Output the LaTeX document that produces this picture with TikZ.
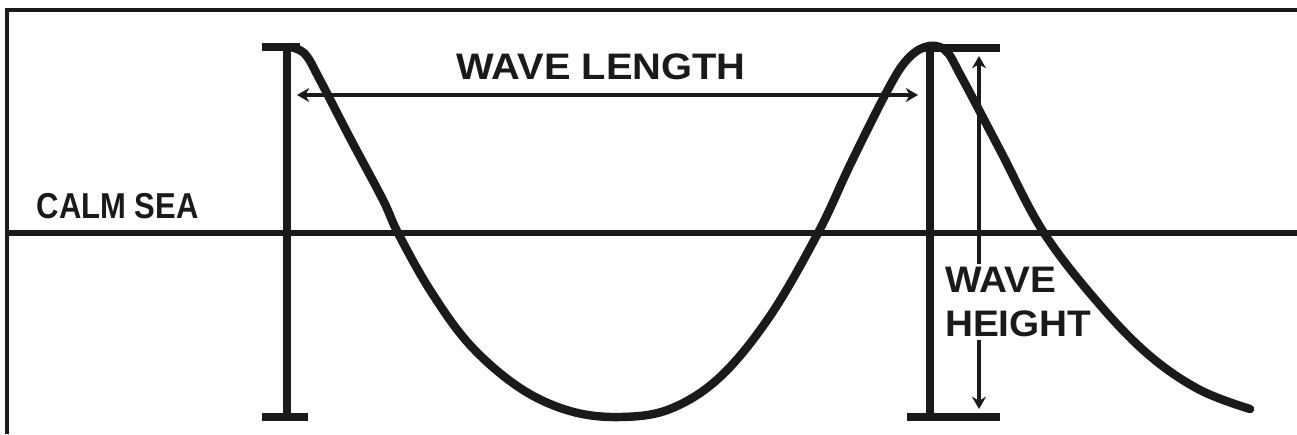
\documentclass[tikz,border=0pt]{standalone}
\usepackage{fontspec}
\setmainfont{Liberation Sans}
\usepackage{tikz}
\usetikzlibrary{arrows.meta,positioning,calc}
\definecolor{WaveInk}{HTML}{1A1A1A}

\begin{document}
\begin{tikzpicture}[x=0.02cm, y=-0.02cm,
  pole/.style={draw=WaveInk, line width=5pt},
  tick/.style={draw=WaveInk, line width=5pt},
  sea/.style={draw=WaveInk, line width=3.6pt},
  wave/.style={draw=WaveInk, line width=4.8pt, line cap=round},
  measure/.style={draw=WaveInk, line width=1.8pt, {Stealth[length=7pt,width=8pt]}-{Stealth[length=7pt,width=8pt]}},
  lbl/.style={font=\fontsize{19}{20}\selectfont\bfseries, text=WaveInk, inner sep=1pt}]
  \useasboundingbox (0,0) rectangle (1297,434);
  % frame
  \draw[WaveInk, line width=1.8pt] (7,434) -- (7,10) -- (1297,10);
  % calm sea
  \coordinate (seaL) at (7,233);
  \coordinate (seaR) at (1297,233);
  \draw[sea] (seaL) -- (seaR);
  % poles with end ticks
  \foreach \name/\x/\l/\r in {lp/287/262/308, rp/930/907/1000}{
    \coordinate (\name top) at (\x,47);
    \coordinate (\name bot) at (\x,417);
    \draw[pole] (\name top) -- (\name bot);
    \draw[tick] (\l,417) -- (\r,417);
  }
  \draw[tick] (262,47) -- (300,47);
  \draw[tick] (925,48) -- (1000,48);
  % labels and measures
  \node[lbl, font=\fontsize{20.5}{22}\selectfont\bfseries, anchor=base west, xscale=0.86] (calm) at (35,218) {CALM SEA};
  \node[lbl, font=\fontsize{21}{22}\selectfont\bfseries, xscale=1.08] (wlen) at (601,67) {WAVE LENGTH};
  \coordinate (lenL) at (297,95);
  \coordinate (lenR) at (918,95);
  \draw[measure] (lenL) -- (lenR);
  \coordinate (hTop) at (979,56);
  \coordinate (hBot) at (979,409);
  \draw[measure] (hTop) -- (hBot);
  \node[lbl, font=\fontsize{21}{25}\selectfont\bfseries, fill=white, align=left,
        anchor=west, inner sep=2pt, xscale=1.05] (wheight) at (941,302) {WAVE\\HEIGHT};
  % the wave
  \draw[wave] plot[smooth, tension=0.6] coordinates {
    (290,47) (305,54) (320,80) (350,138) (383,200) (398,233) (430,290)
    (470,345) (520,388) (570,411) (620,417) (670,409) (720,377)
    (770,316) (818,233) (850,165) (885,95) (905,62) (925,47) (945,50)
    (962,78) (1000,150) (1044,233) (1100,305) (1150,356) (1200,390) (1250,409)};
\end{tikzpicture}
\end{document}
